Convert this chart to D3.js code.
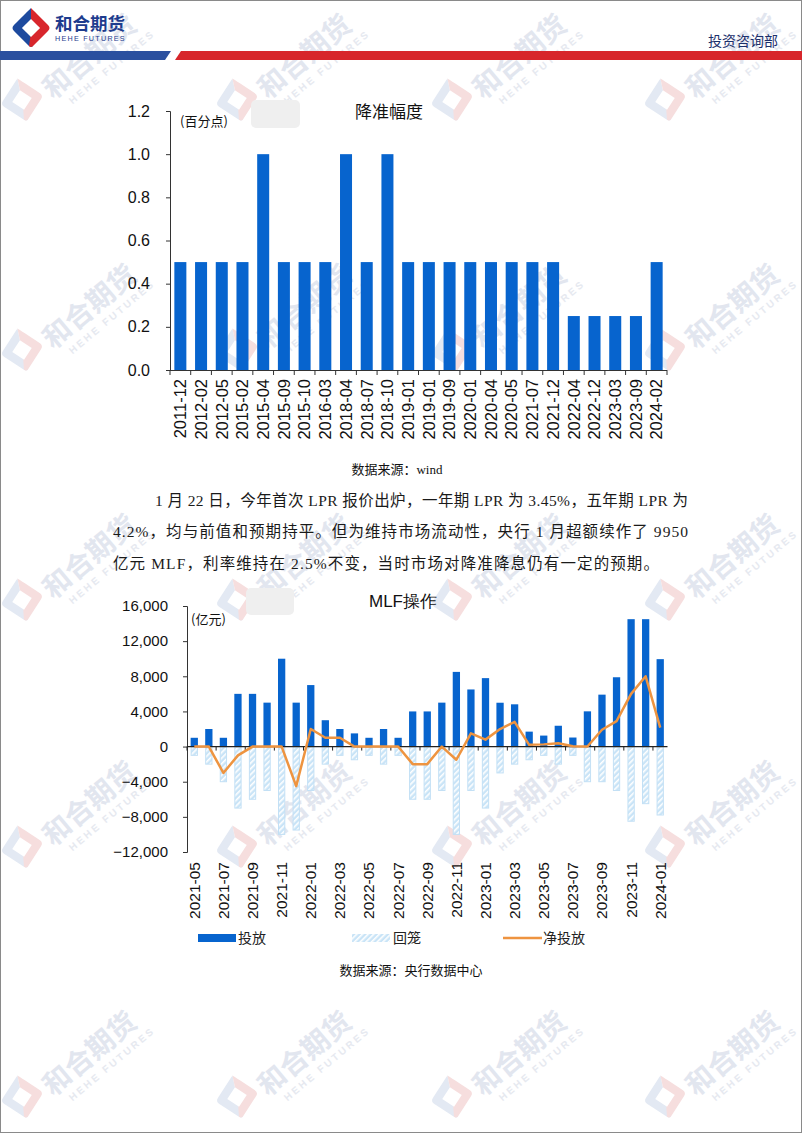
<!DOCTYPE html>
<html><head><meta charset="utf-8">
<script src="https://cdn.jsdelivr.net/npm/d3@7"></script>
<style>
html,body{margin:0;padding:0;background:#fff;}
svg{display:block;}
</style></head>
<body>
<svg id="page" width="802" height="1133"></svg>
<script>
// ---------- DATA ----------
const rrrDates = ["2011-12","2012-02","2012-05","2015-02","2015-04","2015-09","2015-10","2016-03","2018-04","2018-07","2018-10","2019-01","2019-01","2019-09","2020-01","2020-04","2020-05","2021-07","2021-12","2022-04","2022-12","2023-03","2023-09","2024-02"];
const rrrCuts  = [0.5,0.5,0.5,0.5,1.0,0.5,0.5,0.5,1.0,0.5,1.0,0.5,0.5,0.5,0.5,0.5,0.5,0.5,0.5,0.25,0.25,0.25,0.25,0.5];
const rrrTicks = [0,0.2,0.4,0.6,0.8,1.0,1.2];

const mlfMonths = ["2021-05","2021-06","2021-07","2021-08","2021-09","2021-10","2021-11","2021-12","2022-01","2022-02","2022-03","2022-04","2022-05","2022-06","2022-07","2022-08","2022-09","2022-10","2022-11","2022-12","2023-01","2023-02","2023-03","2023-04","2023-05","2023-06","2023-07","2023-08","2023-09","2023-10","2023-11","2023-12","2024-01"];
const mlfInject   = [1000,2000,1000,6000,6000,5000,10000,5000,7000,3000,2000,1500,1000,2000,1000,4000,4000,5000,8500,6500,7790,4990,4810,1700,1250,2370,1030,4010,5910,7890,14500,14500,9950];
const mlfWithdraw = [-1000,-2000,-4000,-7000,-6000,-5000,-10000,-9500,-5000,-2000,-1000,-1500,-1000,-2000,-1000,-6000,-6000,-5000,-10000,-5000,-7000,-3000,-2000,-1500,-1000,-2000,-1000,-4000,-4000,-5000,-8500,-6500,-7790];
const mlfNet      = [0,0,-3000,-1000,0,0,0,-4500,2000,1000,1000,0,0,0,0,-2000,-2000,0,-1500,1500,790,1990,2810,200,250,370,30,10,1910,2890,6000,8000,2160];
const mlfTicks = [16000,12000,8000,4000,0,-4000,-8000,-12000];
const legendNames = ["投放","回笼","净投放"];

// ---------- STYLE ----------
const BLUE = "#0764CE", LIGHT = "#c9e4f7", ORANGE = "#EE9440";
const SANS = "'Liberation Sans', Arial, sans-serif";
const CJK = "'Noto Sans CJK SC', sans-serif";
const SERIF = "'Liberation Serif', 'Noto Sans CJK SC', serif";

const svg = d3.select("#page");
const defs = svg.append("defs");
const pat = defs.append("pattern").attr("id","hatch").attr("patternUnits","userSpaceOnUse")
  .attr("width",4).attr("height",4).attr("patternTransform","rotate(45)");
pat.append("rect").attr("width",4).attr("height",4).attr("fill",LIGHT);
pat.append("rect").attr("x",0).attr("width",1.6).attr("height",4).attr("fill","#ffffff");

// ---------- WATERMARKS ----------
function logo(g, s, colL, colR, inner) {
  g.append("path").attr("d",`M0,${-s} Q${-s*0.15},${-s*0.85} ${-s*0.85},${-s*0.15} Q${-s},0 ${-s*0.85},${s*0.15} L${-s*0.1},${s*0.9} Q0,${s} ${s*0.1},${s*0.9} L0,${s*0.2} L${-s*0.35},0 L0,${-s*0.35} Z`).attr("fill",colL);
  g.append("path").attr("d",`M0,${-s} Q${s*0.15},${-s*0.85} ${s*0.85},${-s*0.15} Q${s},0 ${s*0.85},${s*0.15} L${s*0.1},${s*0.9} Q0,${s} ${-s*0.1},${s*0.9} L0,${s*0.2} L${s*0.35},0 L0,${-s*0.35} Z`).attr("fill",colR);
  g.append("rect").attr("x",-s*0.32).attr("y",-s*0.32).attr("width",s*0.64).attr("height",s*0.64)
    .attr("transform","rotate(45)").attr("fill",inner);
}
const wm = svg.append("g").attr("class","watermarks");
[22,237,452,665].forEach(x=>{
  [100,350,600,847,1097].forEach(y=>{
    const g = wm.append("g").attr("transform",`translate(${x},${y})`);
    logo(g.append("g").attr("transform","rotate(-12)"), 22, "#e3e9f3", "#f6dede", "#ffffff");
    const t = g.append("g").attr("transform","translate(31,0) rotate(-40)");
    t.append("text").attr("x",0).attr("y",0).attr("font-family",CJK).attr("font-weight","bold")
      .attr("font-size",28).attr("fill","#e2e6ef").text("和合期货");
    t.append("text").attr("x",12).attr("y",16).attr("font-family",SANS).attr("font-weight","bold")
      .attr("font-size",10).attr("letter-spacing",2.6).attr("fill","#e6e9f0").text("HEHE FUTURES");
  });
});

// ---------- PAGE BORDER & HEADER ----------
svg.append("rect").attr("x",0.5).attr("y",0.5).attr("width",801).attr("height",1132)
  .attr("fill","none").attr("stroke","#8a8a8a").attr("stroke-width",1);
const hl = svg.append("g").attr("transform","translate(31,28)");
logo(hl, 20, "#1d4a9e", "#d8262c", "#ffffff");
svg.append("text").attr("x",55).attr("y",30).attr("font-family",CJK).attr("font-weight","bold")
  .attr("font-size",17.5).attr("fill","#1e3c8e").text("和合期货");
svg.append("text").attr("x",55).attr("y",41).attr("font-family",SANS).attr("font-size",7.2)
  .attr("letter-spacing",1.25).attr("fill","#1e3c8e").text("HEHE FUTURES");
svg.append("text").attr("x",778).attr("y",46).attr("text-anchor","end").attr("font-family",CJK)
  .attr("font-size",14).attr("fill","#1b2f6b").text("投资咨询部");
svg.append("path").attr("d","M0,51 L171,51 L165,60 L0,60 Z").attr("fill","#2b509f");
svg.append("path").attr("d","M181,51 L802,51 L802,60 L175,60 Z").attr("fill","#d7262b");

// ---------- CHART 1 : RRR cuts ----------
const c1 = svg.append("g");
const idx1 = rrrDates.map((d,i)=>i);
const x1 = d3.scaleBand().domain(idx1).range([170,667]).paddingInner(0.42).paddingOuter(0.21);
const y1 = d3.scaleLinear().domain([0,1.2]).range([370,111]);
c1.append("rect").attr("x",251).attr("y",100).attr("width",49).attr("height",28).attr("rx",5).attr("fill","#efefef");
c1.selectAll("rect.bar").data(rrrCuts).join("rect").attr("class","bar")
  .attr("x",(d,i)=>x1(i)).attr("width",x1.bandwidth())
  .attr("y",d=>y1(d)).attr("height",d=>y1(0)-y1(d)).attr("fill",BLUE);
const ya1 = c1.append("g").attr("transform","translate(170,0)")
  .call(d3.axisLeft(y1).tickValues(rrrTicks).tickFormat(d3.format(".1f")).tickSize(4).tickPadding(16));
ya1.select(".domain").attr("stroke","#333");
ya1.selectAll(".tick line").attr("stroke","#333");
ya1.selectAll("text").attr("font-family",SANS).attr("font-size",16).attr("fill","#111");
const xa1 = c1.append("g").attr("transform","translate(0,370)")
  .call(d3.axisBottom(x1).tickSize(0).tickFormat(i=>rrrDates[i]));
xa1.select(".domain").attr("stroke","#333").attr("d","M170,0.5H667");
xa1.selectAll("text").attr("font-family",SANS).attr("font-size",16.5).attr("fill","#111")
  .attr("transform","rotate(-90)").attr("text-anchor","end").attr("dx","-9").attr("dy","0.35em").attr("x",0).attr("y",0);
c1.selectAll("line.bt").data(d3.range(rrrDates.length+1)).join("line").attr("class","bt")
  .attr("x1",i=>170+i*x1.step()).attr("x2",i=>170+i*x1.step()).attr("y1",370).attr("y2",375).attr("stroke","#333");
c1.append("text").attr("x",180).attr("y",126).attr("font-family",CJK).attr("font-size",13).attr("fill","#111").text("(百分点)");
c1.append("text").attr("x",389).attr("y",118).attr("text-anchor","middle").attr("font-family",CJK).attr("font-size",17).attr("fill","#111").text("降准幅度");
svg.append("text").attr("x",397).attr("y",474).attr("text-anchor","middle").attr("font-family",SERIF).attr("font-size",13).attr("fill","#111").text("数据来源：wind");

// ---------- PARAGRAPH ----------
const para = [
  {x:155, y:506, w:533, t:"1 月 22 日，今年首次 LPR 报价出炉，一年期 LPR 为 3.45%，五年期 LPR 为"},
  {x:113, y:537, w:575, t:"4.2%，均与前值和预期持平。但为维持市场流动性，央行 1 月超额续作了 9950"},
  {x:113, y:569, w:546, t:"亿元 MLF，利率维持在 2.5%不变，当时市场对降准降息仍有一定的预期。"}
];
svg.selectAll("text.para").data(para).join("text").attr("class","para")
  .attr("x",d=>d.x).attr("y",d=>d.y).attr("textLength",d=>d.w).attr("lengthAdjust","spacing")
  .attr("font-family",SERIF).attr("font-size",15.5).attr("fill","#1a1a1a").text(d=>d.t);

// ---------- CHART 2 : MLF ----------
const c2 = svg.append("g");
const idx2 = mlfMonths.map((d,i)=>i);
const x2 = d3.scaleBand().domain(idx2).range([187,667.5]).paddingInner(0.5).paddingOuter(0.25);
const y2 = d3.scaleLinear().domain([-12000,16000]).range([852,606]);
c2.append("rect").attr("x",246).attr("y",588).attr("width",48).attr("height",27).attr("rx",5).attr("fill","#efefef");
c2.selectAll("rect.inj").data(mlfInject).join("rect").attr("class","inj")
  .attr("x",(d,i)=>x2(i)).attr("width",x2.bandwidth())
  .attr("y",d=>y2(d)).attr("height",d=>y2(0)-y2(d)).attr("fill",BLUE);
c2.selectAll("rect.wd").data(mlfWithdraw).join("rect").attr("class","wd")
  .attr("x",(d,i)=>x2(i)+0.5).attr("width",x2.bandwidth()-1)
  .attr("y",y2(0)+0.5).attr("height",d=>y2(d)-y2(0)-0.5).attr("fill","url(#hatch)")
  .attr("stroke","#c3e0f5").attr("stroke-width",1);
const ya2 = c2.append("g").attr("transform","translate(187,0)")
  .call(d3.axisLeft(y2).tickValues(mlfTicks).tickFormat(d3.format(",")).tickSize(4).tickPadding(15));
ya2.select(".domain").attr("stroke","#333");
ya2.selectAll(".tick line").attr("stroke","#333");
ya2.selectAll("text").attr("font-family",SANS).attr("font-size",15).attr("fill","#111");
c2.append("line").attr("x1",187).attr("x2",667.5).attr("y1",y2(0)).attr("y2",y2(0)).attr("stroke","#222").attr("stroke-width",1.2);
c2.selectAll("line.bt").data(d3.range(0,mlfMonths.length,2)).join("line").attr("class","bt")
  .attr("x1",i=>187+i*x2.step()).attr("x2",i=>187+i*x2.step()).attr("y1",y2(0)).attr("y2",y2(0)+4).attr("stroke","#222");
const line = d3.line().x((d,i)=>x2(i)+x2.bandwidth()/2).y(d=>y2(d));
c2.append("path").datum(mlfNet).attr("d",line).attr("fill","none").attr("stroke",ORANGE).attr("stroke-width",2.5).attr("stroke-linejoin","round");
const xa2 = c2.append("g").attr("transform","translate(0,852)")
  .call(d3.axisBottom(x2).tickSize(0).tickValues(d3.range(0,mlfMonths.length,2)).tickFormat(i=>mlfMonths[i]));
xa2.select(".domain").remove();
xa2.selectAll("text").attr("font-family",SANS).attr("font-size",15.5).attr("fill","#111")
  .attr("transform","rotate(-90)").attr("text-anchor","end").attr("dx","-10").attr("dy","0.35em").attr("x",0).attr("y",0);
c2.append("text").attr("x",191).attr("y",624).attr("font-family",CJK).attr("font-size",13).attr("fill","#111").text("(亿元)");
c2.append("text").attr("x",403).attr("y",607).attr("text-anchor","middle").attr("font-family",SANS).attr("font-size",17).attr("fill","#111").text("MLF操作");
// legend
const lg = c2.append("g");
lg.append("rect").attr("x",198).attr("y",934).attr("width",38).attr("height",8).attr("fill",BLUE);
lg.append("rect").attr("x",352).attr("y",934).attr("width",38).attr("height",8).attr("fill","url(#hatch)");
lg.append("line").attr("x1",503).attr("x2",542).attr("y1",938).attr("y2",938).attr("stroke",ORANGE).attr("stroke-width",2.5);
lg.selectAll("text").data(legendNames).join("text")
  .attr("x",(d,i)=>[238,393,543][i]).attr("y",943).attr("font-family",CJK).attr("font-size",14).attr("fill","#222").text(d=>d);
svg.append("text").attr("x",411).attr("y",975).attr("text-anchor","middle").attr("font-family",SERIF).attr("font-size",13).attr("fill","#111").text("数据来源：央行数据中心");
</script>
</body></html>
